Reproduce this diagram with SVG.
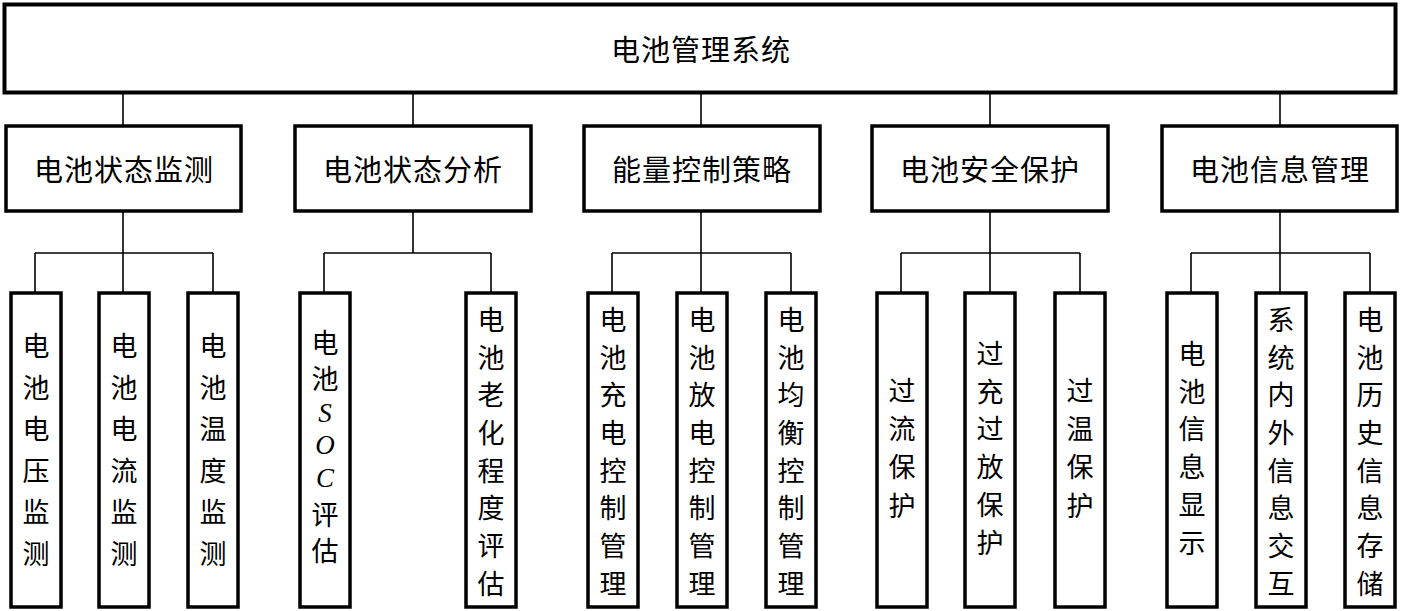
<svg xmlns="http://www.w3.org/2000/svg" width="1401" height="611" viewBox="0 0 1401 611">
<style>
.box{fill:#fff;stroke:#000;stroke-width:3.5}
.conn line{stroke:#000;stroke-width:1.6}
.t{font-family:"Noto Sans CJK SC","Liberation Serif",sans-serif;fill:#000;text-anchor:middle;dominant-baseline:central}
.h{font-size:29px;letter-spacing:1px}
.l{font-size:27px}
.lat{font-family:"Liberation Serif",serif;font-style:italic;font-size:27px}
</style>
<rect width="1401" height="611" fill="#fff"/>
<g id="connectors" class="conn">
<line x1="123" y1="93" x2="123" y2="125"/>
<line x1="413" y1="93" x2="413" y2="125"/>
<line x1="701" y1="93" x2="701" y2="125"/>
<line x1="990" y1="93" x2="990" y2="125"/>
<line x1="1280" y1="93" x2="1280" y2="125"/>
<line x1="123" y1="212" x2="123" y2="292"/>
<line x1="413" y1="212" x2="413" y2="253"/>
<line x1="701" y1="212" x2="701" y2="292"/>
<line x1="990" y1="212" x2="990" y2="292"/>
<line x1="1280" y1="212" x2="1280" y2="292"/>
<line x1="35" y1="253" x2="213" y2="253"/>
<line x1="324" y1="253" x2="491" y2="253"/>
<line x1="612" y1="253" x2="791" y2="253"/>
<line x1="901" y1="253" x2="1080" y2="253"/>
<line x1="1191" y1="253" x2="1370" y2="253"/>
<line x1="35" y1="253" x2="35" y2="292"/>
<line x1="213" y1="253" x2="213" y2="292"/>
<line x1="324" y1="253" x2="324" y2="292"/>
<line x1="491" y1="253" x2="491" y2="292"/>
<line x1="612" y1="253" x2="612" y2="292"/>
<line x1="791" y1="253" x2="791" y2="292"/>
<line x1="901" y1="253" x2="901" y2="292"/>
<line x1="1080" y1="253" x2="1080" y2="292"/>
<line x1="1191" y1="253" x2="1191" y2="292"/>
<line x1="1370" y1="253" x2="1370" y2="292"/>
</g>
<g id="root"><rect class="box" x="4.5" y="4.5" width="1391" height="88" style="stroke-width:4"/><text class="t h" x="701" y="48">电池管理系统</text></g>
<g id="n1"><rect class="box" x="6" y="126" width="235" height="85"/><text class="t h" x="124" y="168">电池状态监测</text></g>
<g id="n2"><rect class="box" x="295" y="126" width="236" height="85"/><text class="t h" x="413" y="168">电池状态分析</text></g>
<g id="n3"><rect class="box" x="584" y="126" width="236" height="85"/><text class="t h" x="702" y="168">能量控制策略</text></g>
<g id="n4"><rect class="box" x="872" y="126" width="236" height="85"/><text class="t h" x="990" y="168">电池安全保护</text></g>
<g id="n5"><rect class="box" x="1162" y="126" width="235" height="85"/><text class="t h" x="1280" y="168">电池信息管理</text></g>

<g id="l1"><rect class="box" x="11" y="293" width="50" height="314"/><text class="t l"><tspan x="36" y="344">电</tspan><tspan x="36" y="385.5">池</tspan><tspan x="36" y="427">电</tspan><tspan x="36" y="468.5">压</tspan><tspan x="36" y="510">监</tspan><tspan x="36" y="551.5">测</tspan></text></g>
<g id="l2"><rect class="box" x="99" y="293" width="50" height="314"/><text class="t l"><tspan x="124" y="344">电</tspan><tspan x="124" y="385.5">池</tspan><tspan x="124" y="427">电</tspan><tspan x="124" y="468.5">流</tspan><tspan x="124" y="510">监</tspan><tspan x="124" y="551.5">测</tspan></text></g>
<g id="l3"><rect class="box" x="188" y="293" width="50" height="314"/><text class="t l"><tspan x="213" y="344">电</tspan><tspan x="213" y="385.5">池</tspan><tspan x="213" y="427">温</tspan><tspan x="213" y="468.5">度</tspan><tspan x="213" y="510">监</tspan><tspan x="213" y="551.5">测</tspan></text></g>

<g id="l4"><rect class="box" x="300" y="293" width="50" height="314"/><text class="t l"><tspan x="325" y="341">电</tspan><tspan x="325" y="377">池</tspan></text><text class="t lat"><tspan x="325" y="413">S</tspan><tspan x="325" y="445">O</tspan><tspan x="325" y="478">C</tspan></text><text class="t l"><tspan x="325" y="513">评</tspan><tspan x="325" y="549">估</tspan></text></g>
<g id="l5"><rect class="box" x="466" y="293" width="50" height="314"/><text class="t l"><tspan x="491" y="318">电</tspan><tspan x="491" y="355.5">池</tspan><tspan x="491" y="393">老</tspan><tspan x="491" y="431">化</tspan><tspan x="491" y="468.5">程</tspan><tspan x="491" y="506">度</tspan><tspan x="491" y="544">评</tspan><tspan x="491" y="581.5">估</tspan></text></g>

<g id="l6"><rect class="box" x="588" y="293" width="50" height="314"/><text class="t l"><tspan x="613" y="318">电</tspan><tspan x="613" y="355.5">池</tspan><tspan x="613" y="393">充</tspan><tspan x="613" y="431">电</tspan><tspan x="613" y="468.5">控</tspan><tspan x="613" y="506">制</tspan><tspan x="613" y="544">管</tspan><tspan x="613" y="581.5">理</tspan></text></g>
<g id="l7"><rect class="box" x="677" y="293" width="50" height="314"/><text class="t l"><tspan x="702" y="318">电</tspan><tspan x="702" y="355.5">池</tspan><tspan x="702" y="393">放</tspan><tspan x="702" y="431">电</tspan><tspan x="702" y="468.5">控</tspan><tspan x="702" y="506">制</tspan><tspan x="702" y="544">管</tspan><tspan x="702" y="581.5">理</tspan></text></g>
<g id="l8"><rect class="box" x="766" y="293" width="50" height="314"/><text class="t l"><tspan x="791" y="318">电</tspan><tspan x="791" y="355.5">池</tspan><tspan x="791" y="393">均</tspan><tspan x="791" y="431">衡</tspan><tspan x="791" y="468.5">控</tspan><tspan x="791" y="506">制</tspan><tspan x="791" y="544">管</tspan><tspan x="791" y="581.5">理</tspan></text></g>

<g id="l9"><rect class="box" x="877" y="293" width="50" height="314"/><text class="t l"><tspan x="902" y="389">过</tspan><tspan x="902" y="427">流</tspan><tspan x="902" y="465">保</tspan><tspan x="902" y="504">护</tspan></text></g>
<g id="l10"><rect class="box" x="965" y="293" width="50" height="314"/><text class="t l"><tspan x="990" y="352">过</tspan><tspan x="990" y="390">充</tspan><tspan x="990" y="427">过</tspan><tspan x="990" y="465">放</tspan><tspan x="990" y="503">保</tspan><tspan x="990" y="541">护</tspan></text></g>
<g id="l11"><rect class="box" x="1055" y="293" width="50" height="314"/><text class="t l"><tspan x="1080" y="389">过</tspan><tspan x="1080" y="427">温</tspan><tspan x="1080" y="465">保</tspan><tspan x="1080" y="504">护</tspan></text></g>

<g id="l12"><rect class="box" x="1167" y="293" width="50" height="314"/><text class="t l"><tspan x="1192" y="352">电</tspan><tspan x="1192" y="390">池</tspan><tspan x="1192" y="427">信</tspan><tspan x="1192" y="465">息</tspan><tspan x="1192" y="503">显</tspan><tspan x="1192" y="541">示</tspan></text></g>
<g id="l13"><rect class="box" x="1256" y="293" width="50" height="314"/><text class="t l"><tspan x="1281" y="318">系</tspan><tspan x="1281" y="355.5">统</tspan><tspan x="1281" y="393">内</tspan><tspan x="1281" y="431">外</tspan><tspan x="1281" y="468.5">信</tspan><tspan x="1281" y="506">息</tspan><tspan x="1281" y="544">交</tspan><tspan x="1281" y="581.5">互</tspan></text></g>
<g id="l14"><rect class="box" x="1345" y="293" width="50" height="314"/><text class="t l"><tspan x="1370" y="318">电</tspan><tspan x="1370" y="355.5">池</tspan><tspan x="1370" y="393">历</tspan><tspan x="1370" y="431">史</tspan><tspan x="1370" y="468.5">信</tspan><tspan x="1370" y="506">息</tspan><tspan x="1370" y="544">存</tspan><tspan x="1370" y="581.5">储</tspan></text></g>
</svg>
